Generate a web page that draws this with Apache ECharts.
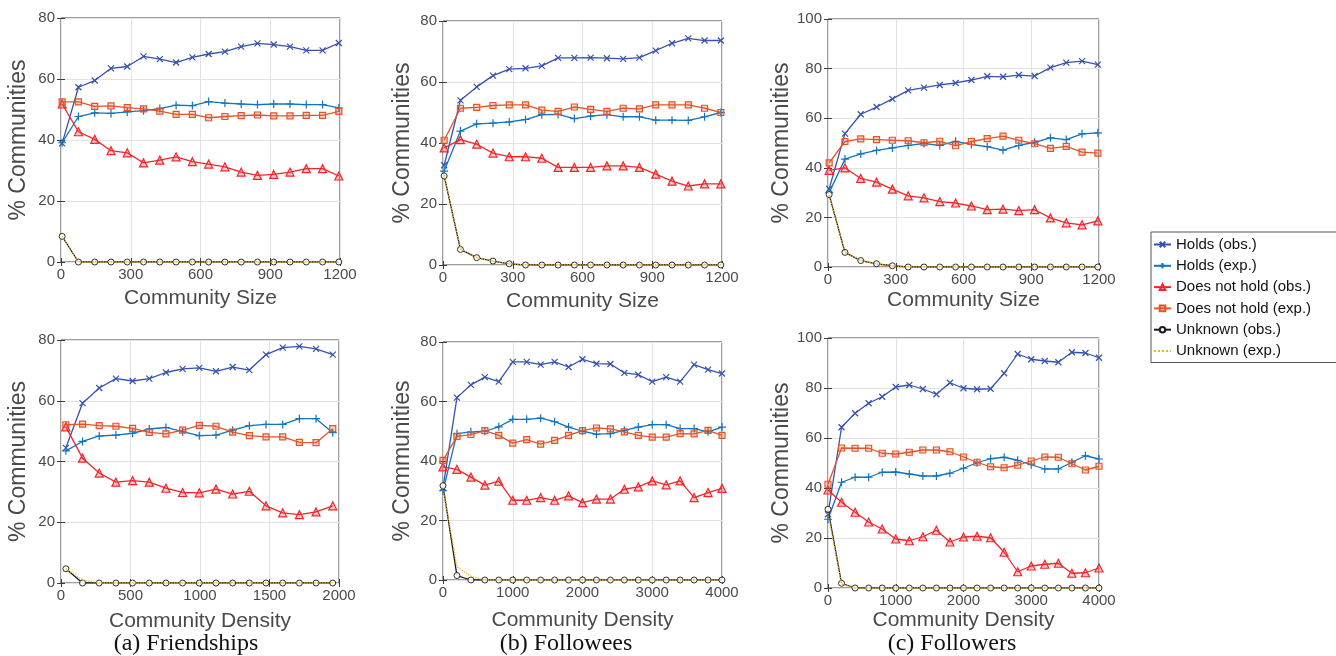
<!DOCTYPE html>
<html>
<head>
<meta charset="utf-8">
<script src="https://cdn.jsdelivr.net/npm/echarts@6/dist/echarts.min.js"></script>
<style>
  html, body { margin: 0; padding: 0; background: #fff; }
  #chart { width: 1336px; height: 656px; }
</style>
</head>
<body>
<div id="chart"></div>
<script>
// --- x positions ---
const sizeX = [5, 75, 145, 215, 285, 355, 425, 495, 565, 635, 705, 775, 845, 915, 985, 1055, 1125, 1195]
const densXA = [35, 155, 275, 395, 515, 635, 755, 875, 995, 1115, 1235, 1355, 1475, 1595, 1715, 1835, 1955]
const densXB = [0, 200, 400, 600, 800, 1000, 1200, 1400, 1600, 1800, 2000, 2200, 2400, 2600, 2800, 3000, 3200, 3400, 3600, 3800, 4000]

// --- (a) Friendships, community size ---
const aSizeHoldsObs = [38.9, 57.3, 59.5, 63.5, 64.1, 67.4, 66.5, 65.4, 67.1, 68.2, 69.0, 70.6, 71.7, 71.3, 70.6, 69.4, 69.4, 71.8]
const aSizeHoldsExp = [39.1, 47.7, 48.9, 48.7, 49.2, 49.6, 50.3, 51.4, 51.3, 52.6, 52.1, 51.8, 51.6, 51.8, 51.8, 51.6, 51.6, 50.5]
const aSizeDnhObs = [51.8, 42.7, 40.2, 36.5, 35.8, 32.5, 33.4, 34.5, 32.9, 32.1, 31.2, 29.5, 28.4, 28.7, 29.5, 30.6, 30.6, 28.2]
const aSizeDnhExp = [52.5, 52.5, 51.0, 51.2, 50.6, 50.2, 49.5, 48.4, 48.4, 47.3, 47.7, 48.0, 48.2, 47.9, 47.9, 48.1, 48.1, 49.4]
const aSizeUnkObs = [8.4, 0, 0, 0, 0, 0, 0, 0, 0, 0, 0, 0, 0, 0, 0, 0, 0, 0]
const aSizeUnkExp = [8.4, 0, 0, 0, 0, 0, 0, 0, 0, 0, 0, 0, 0, 0, 0, 0, 0, 0]

// --- (b) Followees, community size ---
const bSizeHoldsObs = [32.7, 54.0, 58.4, 62.1, 64.2, 64.5, 65.3, 67.9, 67.9, 68.0, 67.8, 67.6, 68.0, 70.3, 72.7, 74.3, 73.6, 73.6]
const bSizeHoldsExp = [30.8, 43.9, 46.3, 46.5, 46.9, 47.7, 49.3, 49.4, 48.0, 48.8, 49.3, 48.6, 48.6, 47.5, 47.5, 47.4, 48.6, 50.0]
const bSizeDnhObs = [38.4, 41.1, 39.6, 36.7, 35.5, 35.5, 35.0, 32.0, 32.0, 32.0, 32.5, 32.5, 32.0, 29.8, 27.5, 25.9, 26.6, 26.6]
const bSizeDnhExp = [40.9, 51.4, 51.7, 52.3, 52.5, 52.5, 50.8, 50.4, 51.8, 51.0, 50.4, 51.4, 51.2, 52.5, 52.5, 52.5, 51.4, 50.0]
const bSizeUnkObs = [29.2, 5.1, 2.4, 1.3, 0.4, 0, 0, 0, 0, 0, 0, 0, 0, 0, 0, 0, 0, 0]
const bSizeUnkExp = [29.5, 5.3, 2.4, 1.2, 0.4, 0, 0, 0, 0, 0, 0, 0, 0, 0, 0, 0, 0, 0]

// --- (c) Followers, community size ---
const cSizeHoldsObs = [31.5, 53.8, 61.6, 64.5, 67.8, 71.2, 72.3, 73.4, 74.2, 75.4, 76.9, 76.7, 77.4, 77.0, 80.4, 82.4, 83.0, 81.6]
const cSizeHoldsExp = [30.0, 43.5, 45.6, 47.0, 48.0, 49.0, 49.8, 49.0, 50.7, 49.4, 48.5, 47.1, 49.0, 50.3, 52.1, 51.4, 53.7, 54.1]
const cSizeDnhObs = [39.0, 40.0, 35.7, 34.2, 31.4, 28.7, 27.9, 26.4, 25.8, 24.6, 23.1, 23.3, 22.7, 23.1, 19.8, 17.8, 17.0, 18.6]
const cSizeDnhExp = [42.0, 50.6, 51.7, 51.4, 51.1, 50.9, 50.1, 50.7, 48.9, 50.6, 51.8, 52.8, 51.1, 49.7, 47.8, 48.6, 46.3, 45.9]
const cSizeUnkObs = [29.2, 5.9, 2.6, 1.3, 0.5, 0, 0, 0, 0, 0, 0, 0, 0, 0, 0, 0, 0, 0]
const cSizeUnkExp = [29.0, 6.0, 2.6, 1.3, 0.5, 0, 0, 0, 0, 0, 0, 0, 0, 0, 0, 0, 0, 0]

// --- (a) Friendships, community density ---
const aDensHoldsObs = [44.5, 59.2, 64.2, 67.3, 66.5, 67.3, 69.3, 70.5, 70.8, 69.7, 71.1, 70.1, 75.2, 77.5, 77.9, 77.1, 75.2]
const aDensHoldsExp = [43.5, 46.6, 48.4, 48.7, 49.3, 50.7, 51.2, 49.8, 48.5, 48.7, 50.3, 51.8, 52.2, 52.2, 54.1, 54.1, 49.5]
const aDensDnhObs = [51.4, 41.1, 36.2, 33.2, 33.7, 33.2, 31.2, 29.8, 29.7, 30.9, 29.3, 30.2, 25.4, 23.1, 22.5, 23.4, 25.4]
const aDensDnhExp = [52.1, 52.3, 51.8, 51.6, 50.9, 49.6, 49.1, 50.3, 51.9, 51.6, 49.7, 48.5, 48.1, 48.1, 46.3, 46.2, 50.8]
const aDensUnkObs = [4.7, 0, 0, 0, 0, 0, 0, 0, 0, 0, 0, 0, 0, 0, 0, 0, 0]
const aDensUnkExp = [4.7, 1.0, 0, 0, 0, 0, 0, 0, 0, 0, 0, 0, 0, 0, 0, 0, 0]

// --- (b) Followees, community density ---
const bDensHoldsObs = [31.0, 61.3, 65.6, 68.2, 66.7, 73.3, 73.3, 72.4, 73.3, 71.6, 74.2, 72.7, 72.6, 69.6, 69.0, 66.7, 68.2, 66.7, 72.4, 70.7, 69.4]
const bDensHoldsExp = [30.0, 49.2, 49.8, 50.0, 51.5, 54.0, 54.0, 54.4, 53.2, 51.4, 50.0, 49.0, 49.2, 50.3, 51.4, 52.2, 52.2, 50.9, 50.9, 49.8, 51.4]
const bDensDnhObs = [38.0, 37.2, 34.6, 31.9, 33.2, 26.8, 26.8, 27.7, 26.8, 28.3, 26.0, 27.2, 27.2, 30.5, 31.3, 33.3, 32.0, 33.3, 27.7, 29.4, 30.8]
const bDensDnhExp = [40.2, 48.3, 48.9, 50.2, 48.6, 46.0, 47.2, 45.7, 46.9, 48.6, 50.2, 51.1, 50.8, 49.8, 48.6, 48.0, 48.0, 49.2, 49.1, 50.3, 48.6]
const bDensUnkObs = [31.7, 1.5, 0, 0, 0, 0, 0, 0, 0, 0, 0, 0, 0, 0, 0, 0, 0, 0, 0, 0, 0]
const bDensUnkExp = [31.0, 4.5, 1.2, 0, 0, 0, 0, 0, 0, 0, 0, 0, 0, 0, 0, 0, 0, 0, 0, 0, 0]

// --- (c) Followers, community density ---
const cDensHoldsObs = [29.5, 64.3, 69.9, 73.9, 76.5, 80.4, 81.2, 79.6, 77.5, 82.1, 79.9, 79.5, 79.7, 85.9, 93.6, 91.5, 90.8, 90.3, 94.3, 94.0, 92.1]
const cDensHoldsExp = [27.5, 42.3, 44.3, 44.3, 46.3, 46.4, 45.6, 44.8, 44.8, 45.9, 47.9, 50.1, 51.7, 52.3, 51.1, 49.3, 47.6, 47.6, 50.3, 52.9, 51.6]
const cDensDnhObs = [39.2, 34.3, 30.3, 26.4, 23.6, 19.6, 18.9, 20.5, 23.1, 18.4, 20.4, 20.7, 20.1, 14.3, 6.5, 8.8, 9.5, 9.9, 5.9, 6.1, 8.0]
const cDensDnhExp = [41.5, 56.0, 55.9, 55.9, 53.9, 53.6, 54.3, 55.2, 55.2, 54.5, 52.4, 50.3, 48.5, 48.1, 49.1, 50.8, 52.4, 52.3, 49.7, 47.2, 48.7]
const cDensUnkObs = [31.5, 1.9, 0, 0, 0, 0, 0, 0, 0, 0, 0, 0, 0, 0, 0, 0, 0, 0, 0, 0, 0]
const cDensUnkExp = [30.0, 1.5, 0, 0, 0, 0, 0, 0, 0, 0, 0, 0, 0, 0, 0, 0, 0, 0, 0, 0, 0]

const seriesNames = ['Holds (obs.)', 'Holds (exp.)', 'Does not hold (obs.)', 'Does not hold (exp.)', 'Unknown (obs.)', 'Unknown (exp.)']
const subTitles = ['(a) Friendships', '(b) Followees', '(c) Followers']

// 面板布局（像素）
const panels = [
  {box: [61, 18, 279, 244], xs: sizeX, xMax: 1200, xInt: 300, yMax: 80, xName: 'Community Size', xGap: 36, yGap: 42,
    ys: [aSizeHoldsObs, aSizeHoldsExp, aSizeDnhObs, aSizeDnhExp, aSizeUnkObs, aSizeUnkExp]},
  {box: [443, 21, 279, 244], xs: sizeX, xMax: 1200, xInt: 300, yMax: 80, xName: 'Community Size', xGap: 36, yGap: 40,
    ys: [bSizeHoldsObs, bSizeHoldsExp, bSizeDnhObs, bSizeDnhExp, bSizeUnkObs, bSizeUnkExp]},
  {box: [828, 19, 271, 248], xs: sizeX, xMax: 1200, xInt: 300, yMax: 100, xName: 'Community Size', xGap: 33, yGap: 36,
    ys: [cSizeHoldsObs, cSizeHoldsExp, cSizeDnhObs, cSizeDnhExp, cSizeUnkObs, cSizeUnkExp]},
  {box: [61, 340, 278, 243], xs: densXA, xMax: 2000, xInt: 500, yMax: 80, xName: 'Community Density', xGap: 38, yGap: 42,
    ys: [aDensHoldsObs, aDensHoldsExp, aDensDnhObs, aDensDnhExp, aDensUnkObs, aDensUnkExp]},
  {box: [443, 342, 279, 238], xs: densXB, xMax: 4000, xInt: 1000, yMax: 80, xName: 'Community Density', xGap: 40, yGap: 40,
    ys: [bDensHoldsObs, bDensHoldsExp, bDensDnhObs, bDensDnhExp, bDensUnkObs, bDensUnkExp]},
  {box: [828, 338, 271, 250], xs: densXB, xMax: 4000, xInt: 1000, yMax: 100, xName: 'Community Density', xGap: 32, yGap: 36,
    ys: [cDensHoldsObs, cDensHoldsExp, cDensDnhObs, cDensDnhExp, cDensUnkObs, cDensUnkExp]}
]
const subTitlePos = [[186, 632], [566, 632], [952, 632]]

// 线型与标记
const X_PATH = 'path://M0,0L10,10M10,0L0,10'
const PLUS_PATH = 'path://M5,0L5,10M0,5L10,5'
const looks = [
  {color: '#3651AE', symbol: X_PATH, size: 6, fill: '#3651AE', bw: 1.2},
  {color: '#1273BF', symbol: PLUS_PATH, size: 8, fill: '#1273BF', bw: 1.2},
  {color: '#F0262B', symbol: 'triangle', size: 8, fill: 'rgba(240,38,43,0.25)', bw: 1.2},
  {color: '#E2552A', symbol: 'rect', size: 6, fill: 'rgba(226,85,42,0.25)', bw: 1.2},
  {color: '#1a1a1a', symbol: 'circle', size: 6, fill: 'rgba(255,255,255,0.9)', bw: 0.9},
  {color: '#EDB120', symbol: 'none', size: 0, fill: 'transparent', bw: 0, dotted: true}
]

const FONT = '"Liberation Sans", Arial, Helvetica, sans-serif'
const AXIS_C = '#3c3c3c'
const LABEL_C = '#4a4a4a'
const plain = v => String(v)

const grids = [], xAxes = [], yAxes = [], series = []
panels.forEach((p, i) => {
  grids.push({left: p.box[0], top: p.box[1], width: p.box[2], height: p.box[3],
    show: true, borderColor: AXIS_C, borderWidth: 1, backgroundColor: '#fff'})
  // 主轴
  xAxes.push({
    gridIndex: i, type: 'value', min: 0, max: p.xMax, interval: p.xInt,
    name: p.xName, nameLocation: 'middle', nameGap: p.xGap,
    nameTextStyle: {fontFamily: FONT, fontSize: 21, color: LABEL_C, verticalAlign: 'middle'},
    axisLine: {show: false},
    axisTick: {show: true, inside: true, length: 4, lineStyle: {color: AXIS_C}},
    axisLabel: {fontFamily: FONT, fontSize: 15, color: LABEL_C, margin: 5, formatter: plain},
    splitLine: {show: true, lineStyle: {color: '#e3e3e3', width: 1}}
  })
  // 顶部镜像刻度
  xAxes.push({
    gridIndex: i, type: 'value', position: 'top', min: 0, max: p.xMax, interval: p.xInt,
    axisLine: {show: false}, axisLabel: {show: false}, splitLine: {show: false},
    axisTick: {show: true, inside: true, length: 4, lineStyle: {color: AXIS_C}}
  })
  yAxes.push({
    gridIndex: i, type: 'value', min: 0, max: p.yMax, interval: 20,
    name: '% Communities', nameLocation: 'middle', nameGap: p.yGap,
    nameTextStyle: {fontFamily: FONT, fontSize: 23, color: LABEL_C, verticalAlign: 'middle'},
    axisLine: {show: false},
    axisTick: {show: true, inside: true, length: 4, lineStyle: {color: AXIS_C}},
    axisLabel: {fontFamily: FONT, fontSize: 15, color: LABEL_C, margin: 6, formatter: plain},
    splitLine: {show: true, lineStyle: {color: '#e3e3e3', width: 1}}
  })
  yAxes.push({
    gridIndex: i, type: 'value', position: 'right', min: 0, max: p.yMax, interval: 20,
    axisLine: {show: false}, axisLabel: {show: false}, splitLine: {show: false},
    axisTick: {show: true, inside: true, length: 4, lineStyle: {color: AXIS_C}}
  })
  p.ys.forEach((vals, k) => {
    const lk = looks[k]
    series.push({
      name: seriesNames[k], type: 'line', xAxisIndex: 2 * i, yAxisIndex: 2 * i,
      data: vals.map((v, j) => [p.xs[j], v]),
      symbol: lk.symbol, symbolSize: lk.size, showSymbol: lk.symbol !== 'none',
      lineStyle: {color: lk.color, width: 1.3, type: lk.dotted ? 'dotted' : 'solid'},
      itemStyle: {color: lk.fill, borderColor: lk.dotted ? 'transparent' : lk.color, borderWidth: lk.bw},
      emphasis: {disabled: true},
      animation: false, z: 2 + k
    })
  })
})

const chart = echarts.init(document.getElementById('chart'), null, {renderer: 'canvas'})
chart.setOption({
  backgroundColor: '#fff',
  animation: false,
  title: subTitles.map((t, i) => ({
    text: t, left: subTitlePos[i][0], top: subTitlePos[i][1], textAlign: 'center', padding: 0,
    textStyle: {fontFamily: '"Liberation Serif", "Times New Roman", serif', fontSize: 24, fontWeight: 'normal', color: '#111'}
  })),
  legend: {
    data: seriesNames, orient: 'vertical', left: 1151, top: 232,
    itemWidth: 17, itemHeight: 7, itemGap: 6.3,
    padding: [5, 30, 4, 2],
    borderColor: '#555', borderWidth: 1, backgroundColor: '#fff',
    textStyle: {fontFamily: FONT, fontSize: 15, color: '#111'},
    selectedMode: false
  },
  grid: grids,
  xAxis: xAxes,
  yAxis: yAxes,
  series: series
})
</script>
</body>
</html>
